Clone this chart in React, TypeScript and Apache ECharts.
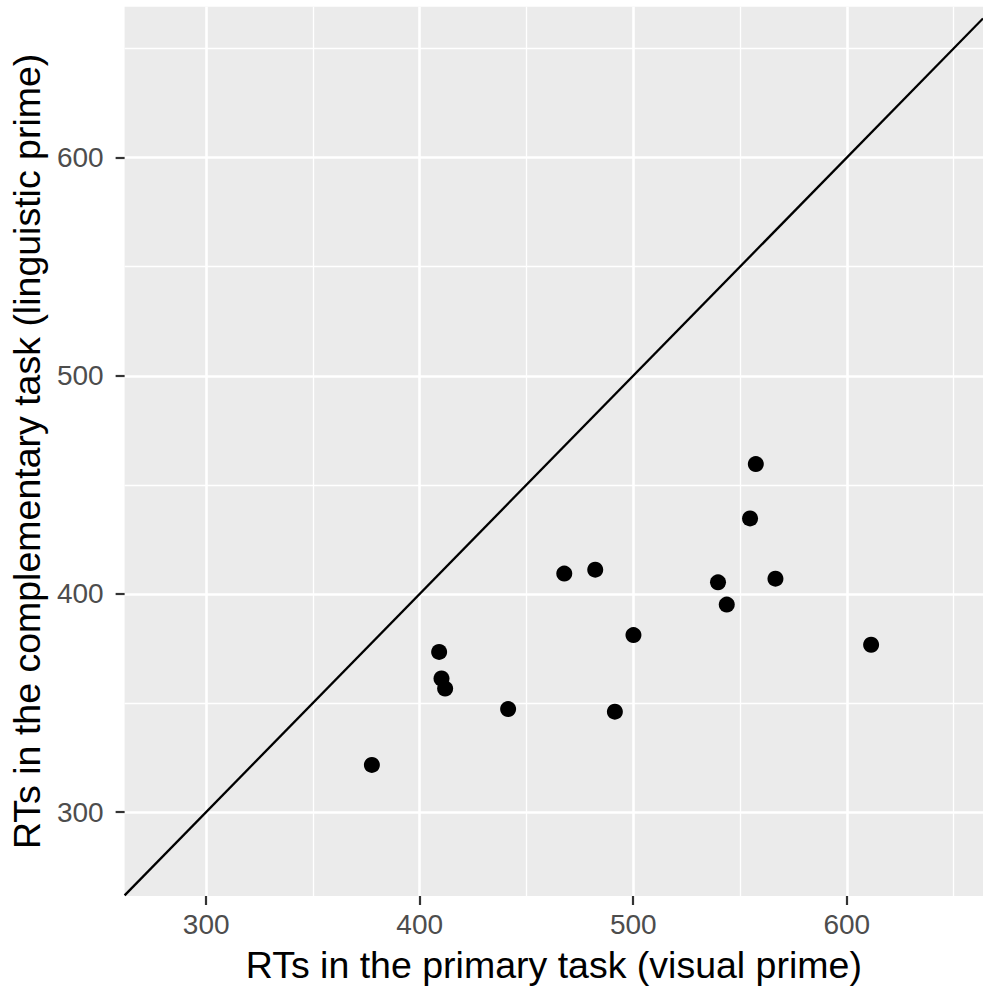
import React, { useEffect, useRef } from "react";
import * as echarts from "echarts";

// Axis setup
const xTicks = [300, 400, 500, 600];
const yTicks = [300, 400, 500, 600];
const xLimits = [261.8, 663.8];
const yLimits = [261.5, 669.2];

// Data
const primaryRT = [377.6, 409.1, 410.2, 411.9, 441.4, 467.7, 482.2, 500.1, 491.4, 557.4, 554.7, 539.7, 543.8, 566.6, 611.4];
const complementaryRT = [321.6, 373.4, 361.2, 356.6, 347.2, 409.3, 411.1, 381.1, 346.0, 459.5, 434.6, 405.3, 395.1, 407.0, 376.7];

// Reference line y = intercept + slope * x
const ablineIntercept = 0;
const ablineSlope = 1;

const xTitle = "RTs in the primary task (visual prime)";
const yTitle = "RTs in the complementary task (linguistic prime)";

const FONT = "'Liberation Sans', Arial, Helvetica, sans-serif";

export default function App() {
  const ref = useRef<HTMLDivElement>(null);

  useEffect(() => {
    document.body.style.margin = "0";
    if (!ref.current) return;
    const chart = echarts.init(ref.current, null, { renderer: "svg" });

    const points = primaryRT.map((x, i) => [x, complementaryRT[i]]);
    const linePts = xLimits.map((x) => [x, ablineIntercept + ablineSlope * x]);

    const axisCommon = {
      type: "value" as const,
      axisLine: { show: false },
      axisTick: {
        show: true,
        length: 9,
        lineStyle: { color: "#333333", width: 2.2 },
      },
      splitLine: { show: true, lineStyle: { color: "#FFFFFF", width: 2.6 } },
      minorTick: { show: false, splitNumber: 2 },
      minorSplitLine: { show: true, lineStyle: { color: "#FFFFFF", width: 1.3 } },
      nameLocation: "middle" as const,
      nameTextStyle: { color: "#000000", fontSize: 37.5, fontFamily: FONT },
    };

    chart.setOption({
      animation: false,
      backgroundColor: "#FFFFFF",
      grid: {
        left: 124.3,
        right: 0,
        top: 6.7,
        bottom: 89.7,
        show: true,
        backgroundColor: "#EBEBEB",
        borderWidth: 0,
      },
      xAxis: {
        ...axisCommon,
        min: xLimits[0],
        max: xLimits[1],
        name: xTitle,
        nameGap: 50,
        axisTick: { ...axisCommon.axisTick, customValues: xTicks },
        axisLabel: {
          customValues: xTicks,
          color: "#4D4D4D",
          fontSize: 28,
          fontFamily: FONT,
          margin: 14,
        },
      },
      yAxis: {
        ...axisCommon,
        min: yLimits[0],
        max: yLimits[1],
        name: yTitle,
        nameGap: 78,
        axisTick: { ...axisCommon.axisTick, customValues: yTicks },
        axisLabel: {
          customValues: yTicks,
          color: "#4D4D4D",
          fontSize: 28,
          fontFamily: FONT,
          margin: 21,
        },
      },
      series: [
        {
          type: "line",
          data: linePts,
          symbol: "none",
          lineStyle: { color: "#000000", width: 2.3 },
          silent: true,
          z: 2,
        },
        {
          type: "scatter",
          data: points,
          symbol: "circle",
          symbolSize: 16,
          itemStyle: { color: "#000000", opacity: 1 },
          z: 3,
        },
      ],
    });

    return () => chart.dispose();
  }, []);

  return <div ref={ref} style={{ width: 983, height: 989 }} />;
}
